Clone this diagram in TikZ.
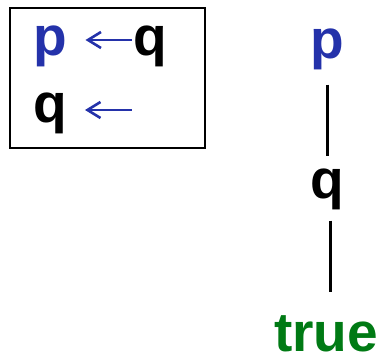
\documentclass[tikz,border=0pt]{standalone}
\usepackage{fontspec}
\setmainfont{Liberation Sans}
\usetikzlibrary{arrows.meta}
\definecolor{varblue}{RGB}{36,50,170}
\definecolor{truegreen}{RGB}{0,122,20}
\begin{document}
\begin{tikzpicture}[x=1pt,y=1pt,
  lbl/.style={inner sep=0pt,font=\fontsize{55}{62}\selectfont\bfseries},
  assign/.style={draw=varblue,line width=2.6pt,{Straight Barb[length=13pt,width=16pt]}-},
  edge/.style={draw=black,line width=3pt}]
\useasboundingbox (0,0) rectangle (381,-358);
% assignment box
\draw[line width=1.4pt] (10,-8) rectangle (205,-148);
\node[lbl,text=varblue,anchor=base west] (bp) at (33.5,-56) {p};
\node[lbl,anchor=base west] (bq) at (133,-56) {q};
\node[lbl,anchor=base west] (bq2) at (33,-123) {q};
\coordinate (e2) at (132,-110);
\draw[assign] ([xshift=18pt,yshift=16pt]bp.base east) -- ([xshift=-1pt,yshift=16pt]bq.base west);
\draw[assign] ([xshift=18pt,yshift=13pt]bq2.base east) -- (e2);
% decision chain
\node[lbl,text=varblue,anchor=base] (rp) at (327.5,-59) {p};
\node[lbl,anchor=base] (rq) at (327.5,-199) {q};
\node[lbl,text=truegreen,anchor=base] (rt) at (326,-352) {true};
\draw[edge,shorten <=14pt,shorten >=13pt] ([xshift=-0.5pt]rp.south) -- ([xshift=-0.5pt]rq.north);
\draw[edge,shorten <=10pt,shorten >=24pt] ([xshift=2.5pt]rq.south) -- ([xshift=2.5pt]rq.south |- rt.north);
\end{tikzpicture}
\end{document}
